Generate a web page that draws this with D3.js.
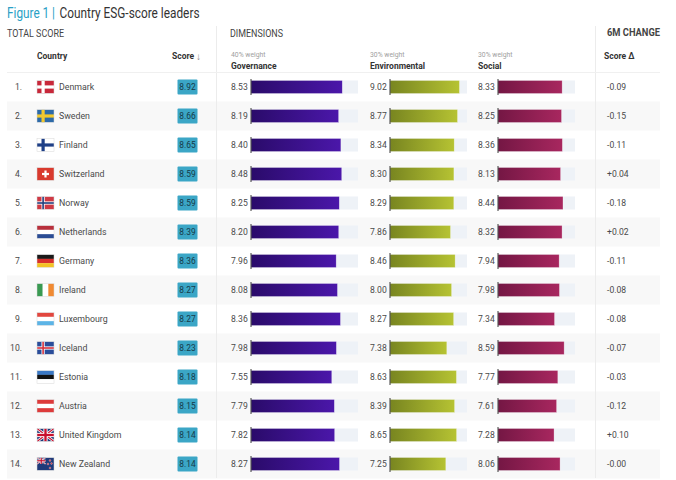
<!DOCTYPE html>
<html>
<head>
<meta charset="utf-8">
<script src="https://cdn.jsdelivr.net/npm/d3@7"></script>
<style>
  body { margin: 0; background: #fff; }
  svg { font-family: Roboto, "Open Sans", sans-serif; }
</style>
</head>
<body>
<svg id="chart" width="676" height="480"></svg>
<script>
// values
const countries = ["Denmark", "Sweden", "Finland", "Switzerland", "Norway", "Netherlands", "Germany",
  "Ireland", "Luxembourg", "Iceland", "Estonia", "Austria", "United Kingdom", "New Zealand"]
const flagCodes = ["dk", "se", "fi", "ch", "no", "nl", "de", "ie", "lu", "is", "ee", "at", "gb", "nz"]
const totalScore = [8.92, 8.66, 8.65, 8.59, 8.59, 8.39, 8.36, 8.27, 8.27, 8.23, 8.18, 8.15, 8.14, 8.14]
const governance = [8.53, 8.19, 8.40, 8.48, 8.25, 8.20, 7.96, 8.08, 8.36, 7.98, 7.55, 7.79, 7.82, 8.27]
const environmental = [9.02, 8.77, 8.34, 8.30, 8.29, 7.86, 8.46, 8.00, 8.27, 7.38, 8.63, 8.39, 8.65, 7.25]
const social = [8.33, 8.25, 8.36, 8.13, 8.44, 8.32, 7.94, 7.98, 7.34, 8.59, 7.77, 7.61, 7.28, 8.06]
const change6m = ["-0.09", "-0.15", "-0.11", "+0.04", "-0.18", "+0.02", "-0.11", "-0.08", "-0.08",
  "-0.07", "-0.03", "-0.12", "+0.10", "-0.00"]

const dimensions = [
  {name: "Governance", weight: "40% weight", values: governance, x0: 231, bar: [251, 358], c: ["#2a0b6a", "#4b17aa"]},
  {name: "Environmental", weight: "30% weight", values: environmental, x0: 370, bar: [390, 467], c: ["#788520", "#b6c333"]},
  {name: "Social", weight: "30% weight", values: social, x0: 478, bar: [498, 575], c: ["#741744", "#a8275f"]}
]

const svg = d3.select("#chart")
const defs = svg.append("defs")
const textCol = "#4a4a4a"

const y = d3.scaleBand()
  .domain(countries)
  .range([72.5, 478.5])

// row stripes
svg.append("g").selectAll("rect")
  .data(countries.filter((d, i) => i % 2 === 1))
  .join("rect")
  .attr("x", 7).attr("width", 653)
  .attr("y", d => y(d)).attr("height", y.bandwidth())
  .attr("fill", "#f8f8f8")

// dividers
svg.append("line").attr("x1", 216.5).attr("x2", 216.5).attr("y1", 26).attr("y2", 478)
  .attr("stroke", "#ececec")
svg.append("line").attr("x1", 595.5).attr("x2", 595.5).attr("y1", 26).attr("y2", 478)
  .attr("stroke", "#ececec")
svg.append("line").attr("x1", 7).attr("x2", 660).attr("y1", 72.5).attr("y2", 72.5)
  .attr("stroke", "#f0f0f0")

// title
svg.append("text").attr("x", 7).attr("y", 17.5)
  .attr("font-size", 14).attr("fill", "#2a9fc6")
  .attr("textLength", 48).attr("lengthAdjust", "spacingAndGlyphs")
  .text("Figure 1 |")
svg.append("text").attr("x", 59.5).attr("y", 17.5)
  .attr("font-size", 14).attr("fill", "#333")
  .attr("textLength", 140).attr("lengthAdjust", "spacingAndGlyphs")
  .text("Country ESG-score leaders")

const section = (x, yy, txt, len, weight) => svg.append("text")
  .attr("x", x).attr("y", yy).attr("font-size", 10).attr("fill", "#444")
  .attr("font-weight", weight || 400)
  .attr("textLength", len).attr("lengthAdjust", "spacingAndGlyphs")
  .text(txt)
section(7, 37, "TOTAL SCORE", 57)
section(230, 37, "DIMENSIONS", 53)
section(607, 35.5, "6M CHANGE", 53, 700)

const colHead = (x, yy, txt) => svg.append("text")
  .attr("x", x).attr("y", yy).attr("font-size", 8.5).attr("font-weight", 700)
  .attr("fill", "#333").text(txt)
colHead(37, 59, "Country")
colHead(172, 59, "Score")
svg.append("text").attr("x", 196).attr("y", 59.5).attr("font-size", 10)
  .attr("fill", "#888").text("\u2193")
colHead(604, 58.5, "Score \u0394")

// dimension headers + bars
dimensions.forEach((dim, k) => {
  svg.append("text").attr("x", dim.x0).attr("y", 57).attr("font-size", 6.8)
    .attr("fill", "#a0a0a0").text(dim.weight)
  colHead(dim.x0, 69, dim.name)

  const grad = defs.append("linearGradient").attr("id", "g" + k)
  grad.append("stop").attr("offset", "0%").attr("stop-color", dim.c[0])
  grad.append("stop").attr("offset", "100%").attr("stop-color", dim.c[1])

  const x = d3.scaleLinear().domain([0, 10]).range(dim.bar)
  const g = svg.append("g")
  const bh = 13

  g.selectAll("rect.track").data(countries).join("rect")
    .attr("class", "track")
    .attr("x", x(0)).attr("width", x(10) - x(0))
    .attr("y", d => y(d) + y.bandwidth() / 2 - bh / 2).attr("height", bh)
    .attr("fill", "#eef2f7")

  g.selectAll("rect.bar").data(countries).join("rect")
    .attr("class", "bar")
    .attr("x", x(0)).attr("width", (d, i) => x(dim.values[i]) - x(0))
    .attr("y", d => y(d) + y.bandwidth() / 2 - bh / 2).attr("height", bh)
    .attr("fill", `url(#g${k})`)
    .attr("stroke", "rgba(255,255,255,0.5)").attr("stroke-width", 0.6)

  g.selectAll("line.tick").data(countries).join("line")
    .attr("class", "tick")
    .attr("x1", x(0)).attr("x2", x(0))
    .attr("y1", d => y(d) + y.bandwidth() / 2 - bh / 2 - 1.5)
    .attr("y2", d => y(d) + y.bandwidth() / 2 + bh / 2 + 1.5)
    .attr("stroke", "#3a3a3a").attr("stroke-width", 1)

  g.selectAll("text").data(countries).join("text")
    .attr("x", dim.x0).attr("y", d => y(d) + y.bandwidth() / 2 + 3)
    .attr("font-size", 8.6).attr("fill", textCol)
    .text((d, i) => dim.values[i].toFixed(2))
})

// rows: rank, flag, name, score, change
const rows = svg.append("g").selectAll("g").data(countries).join("g")
  .attr("transform", d => `translate(0,${y(d) + y.bandwidth() / 2})`)

rows.append("text").attr("x", 22).attr("y", 3).attr("text-anchor", "end")
  .attr("font-size", 8.6).attr("fill", textCol).text((d, i) => (i + 1) + ".")

rows.append("text").attr("x", 59).attr("y", 3)
  .attr("font-size", 8.8).attr("fill", textCol).text(d => d)

rows.append("rect").attr("x", 177.5).attr("y", -7.5).attr("width", 20).attr("height", 15)
  .attr("rx", 1).attr("fill", "#3ba6c6")
rows.append("text").attr("x", 187.5).attr("y", 3).attr("text-anchor", "middle")
  .attr("font-size", 8.4).attr("fill", "#163a48").text((d, i) => totalScore[i].toFixed(2))

rows.append("text").attr("x", 607).attr("y", 3)
  .attr("font-size", 8.6).attr("fill", textCol).text((d, i) => change6m[i])

// flags, 17 x 13
const FW = 17, FH = 13
function hStripes(g, cols) {
  cols.forEach((c, i) => g.append("rect").attr("x", 0).attr("y", i * FH / cols.length)
    .attr("width", FW).attr("height", FH / cols.length + 0.1).attr("fill", c))
}
function vStripes(g, cols) {
  cols.forEach((c, i) => g.append("rect").attr("x", i * FW / cols.length).attr("y", 0)
    .attr("width", FW / cols.length + 0.1).attr("height", FH).attr("fill", c))
}
function nordic(g, bg, cross, inner) {
  g.append("rect").attr("width", FW).attr("height", FH).attr("fill", bg)
  g.append("rect").attr("x", 4.5).attr("width", 3.2).attr("height", FH).attr("fill", cross)
  g.append("rect").attr("y", 4.9).attr("width", FW).attr("height", 3.2).attr("fill", cross)
  if (inner) {
    g.append("rect").attr("x", 5.3).attr("width", 1.6).attr("height", FH).attr("fill", inner)
    g.append("rect").attr("y", 5.7).attr("width", FW).attr("height", 1.6).attr("fill", inner)
  }
}
function union(g, w, h) {
  g.append("rect").attr("width", w).attr("height", h).attr("fill", "#1f3a7a")
  g.append("path").attr("d", `M0,0L${w},${h}M${w},0L0,${h}`).attr("stroke", "#fff").attr("stroke-width", h * 0.2)
  g.append("path").attr("d", `M0,0L${w},${h}M${w},0L0,${h}`).attr("stroke", "#c8102e").attr("stroke-width", h * 0.08)
  g.append("rect").attr("x", w / 2 - h * 0.16).attr("width", h * 0.32).attr("height", h).attr("fill", "#fff")
  g.append("rect").attr("y", h / 2 - h * 0.16).attr("width", w).attr("height", h * 0.32).attr("fill", "#fff")
  g.append("rect").attr("x", w / 2 - h * 0.09).attr("width", h * 0.18).attr("height", h).attr("fill", "#c8102e")
  g.append("rect").attr("y", h / 2 - h * 0.09).attr("width", w).attr("height", h * 0.18).attr("fill", "#c8102e")
}
const drawFlag = {
  dk: g => nordic(g, "#c8283a", "#fff"),
  se: g => nordic(g, "#2d6aa8", "#f2c82f"),
  fi: g => nordic(g, "#fff", "#1e3f86"),
  no: g => nordic(g, "#cf3a45", "#fff", "#24407e"),
  is: g => nordic(g, "#2a4d9a", "#fff", "#d8343e"),
  ch: g => {
    g.append("rect").attr("width", FW).attr("height", FH).attr("fill", "#d93a2e")
    g.append("rect").attr("x", 7.4).attr("y", 3).attr("width", 2.2).attr("height", 7).attr("fill", "#fff")
    g.append("rect").attr("x", 5).attr("y", 5.4).attr("width", 7).attr("height", 2.2).attr("fill", "#fff")
  },
  nl: g => hStripes(g, ["#b8303c", "#fff", "#2b4c94"]),
  de: g => hStripes(g, ["#1a1a1a", "#d8302c", "#f3c324"]),
  ie: g => vStripes(g, ["#3a9a52", "#fff", "#f08a32"]),
  lu: g => hStripes(g, ["#e2473f", "#fff", "#5cb4e6"]),
  ee: g => hStripes(g, ["#3a78c4", "#111", "#fff"]),
  at: g => hStripes(g, ["#dd3b3b", "#fff", "#dd3b3b"]),
  gb: g => union(g, FW, FH),
  nz: g => {
    g.append("rect").attr("width", FW).attr("height", FH).attr("fill", "#1f3a7a")
    union(g.append("g"), FW / 2, FH / 2)
    const stars = [[13, 3], [11, 6.5], [14.5, 6], [13, 10.5]]
    g.selectAll("circle.star").data(stars).join("circle")
      .attr("cx", d => d[0]).attr("cy", d => d[1]).attr("r", 0.9)
      .attr("fill", "#d8343e").attr("stroke", "#fff").attr("stroke-width", 0.3)
  }
}
rows.each(function (d, i) {
  const g = d3.select(this).append("g").attr("transform", `translate(37,${-FH / 2})`)
  const clipId = "clip" + i
  defs.append("clipPath").attr("id", clipId).append("rect").attr("width", FW).attr("height", FH)
  const inner = g.append("g").attr("clip-path", `url(#${clipId})`)
  drawFlag[flagCodes[i]](inner)
  g.append("rect").attr("width", FW).attr("height", FH).attr("fill", "none")
    .attr("stroke", "#d8d8d8").attr("stroke-width", 0.5)
})
</script>
</body>
</html>
